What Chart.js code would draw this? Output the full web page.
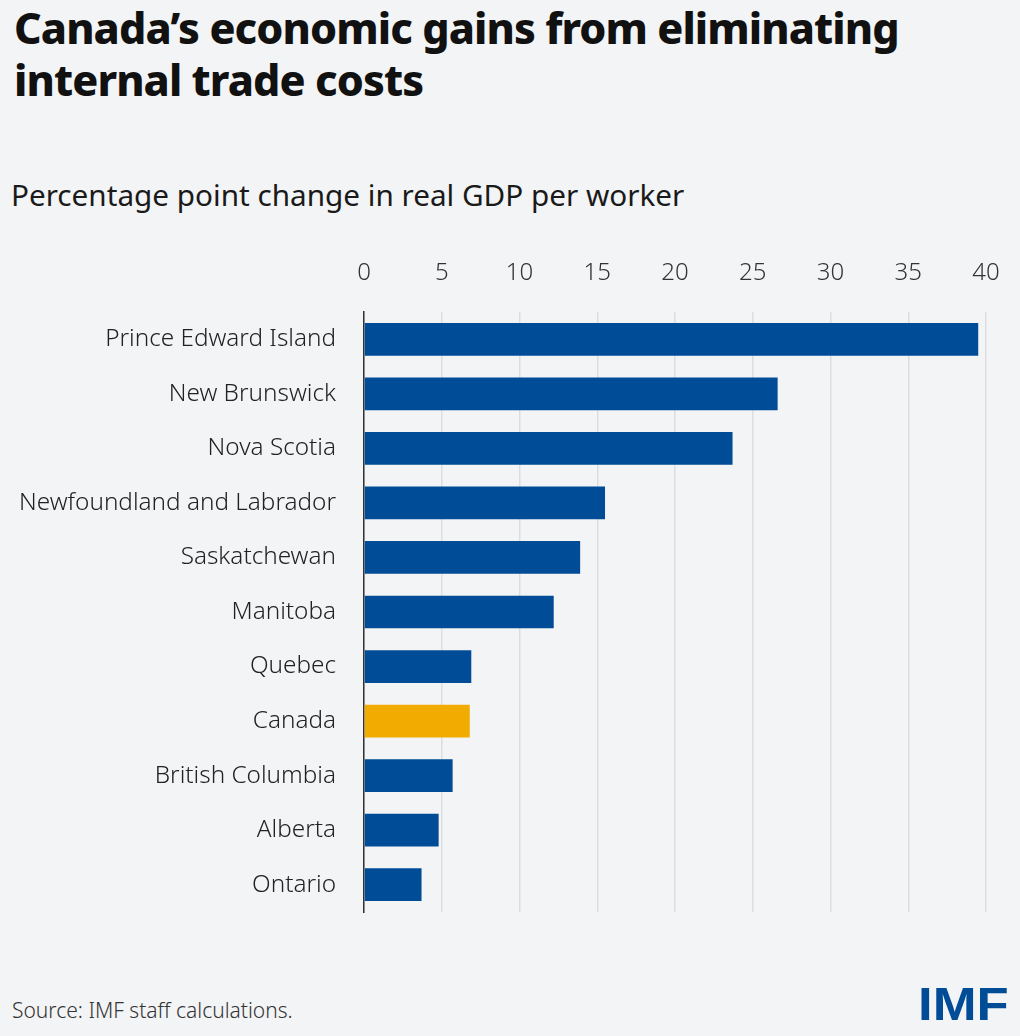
<!DOCTYPE html>
<html>
<head>
<meta charset="utf-8">
<script src="https://cdn.jsdelivr.net/npm/chart.js@4"></script>
<style>
    html, body { margin: 0; padding: 0; background: #f3f4f6; }
    body { width: 1020px; height: 1036px; position: relative; overflow: hidden; font-family: "Noto Sans", sans-serif; color: #111; }
    #title { position: absolute; left: 14px; top: 2px; font-size: 43px; font-weight: 800; line-height: 52px; letter-spacing: -0.9px; white-space: nowrap; }
    #subtitle { position: absolute; left: 11px; top: 174px; font-size: 29.7px; color: #1a1a1a; white-space: nowrap; }
    #chart { position: absolute; left: 0; top: 250px; }
    #source { position: absolute; left: 12px; top: 996px; font-size: 21px; font-weight: 300; color: #333; }
    #logo { position: absolute; left: 918px; top: 976px; font-family: "Liberation Sans Narrow", "Liberation Sans", sans-serif; font-weight: 700; font-size: 47px; color: #004c97; transform: scaleX(1.12); transform-origin: left top; }
</style>
</head>
<body>
<div id="title">Canada’s economic gains from eliminating<br>internal trade costs</div>
<div id="subtitle">Percentage point change in real GDP per worker</div>
<canvas id="chart" width="1020" height="670"></canvas>
<div id="source">Source: IMF staff calculations.</div>
<div id="logo">IMF</div>
<script>
// Data
const regions = [
    'Prince Edward Island',
    'New Brunswick',
    'Nova Scotia',
    'Newfoundland and Labrador',
    'Saskatchewan',
    'Manitoba',
    'Quebec',
    'Canada',
    'British Columbia',
    'Alberta',
    'Ontario',
];
const gdpChange = [39.5, 26.6, 23.7, 15.5, 13.9, 12.2, 6.9, 6.8, 5.7, 4.8, 3.7];
const xTicks = [0, 5, 10, 15, 20, 25, 30, 35, 40];

const BLUE = '#004c97';
const GOLD = '#f2ab00';
const barColors = regions.map((r) => (r === 'Canada' ? GOLD : BLUE));

const ctx = document.getElementById('chart').getContext('2d');

// eslint-disable-next-line no-new
new Chart(ctx, {
    type: 'bar',
    data: {
        labels: regions,
        datasets: [
            {
                data: gdpChange,
                backgroundColor: barColors,
                borderWidth: 0,
                categoryPercentage: 1,
                barPercentage: 0.6,
            },
        ],
    },
    options: {
        indexAxis: 'y',
        responsive: false,
        animation: false,
        layout: { padding: { left: 0, right: 34, top: 0, bottom: 8 } },
        plugins: {
            legend: { display: false },
            tooltip: { enabled: false },
        },
        scales: {
            x: {
                position: 'top',
                min: 0,
                max: 40,
                afterBuildTicks: (scale) => {
                    scale.ticks = xTicks.map((v) => ({ value: v }));
                },
                afterFit: (scale) => {
                    scale.height = 62;
                    scale.paddingLeft = 0;
                    scale.paddingRight = 0;
                },
                grid: {
                    color: '#dcdde0',
                    lineWidth: 1.5,
                    drawTicks: false,
                },
                border: { display: false },
                ticks: {
                    padding: 24,
                    color: '#333',
                    font: { family: 'Noto Sans', size: 24, weight: 300 },
                },
            },
            y: {
                afterFit: (scale) => {
                    scale.width = 364;
                    scale.paddingTop = 0;
                    scale.paddingBottom = 0;
                },
                grid: { display: false, drawTicks: false },
                border: { display: true, color: '#333', width: 1.5 },
                ticks: {
                    padding: 28,
                    color: '#222',
                    font: { family: 'Noto Sans', size: 24.3, weight: 300 },
                },
            },
        },
    },
});
</script>
</body>
</html>
